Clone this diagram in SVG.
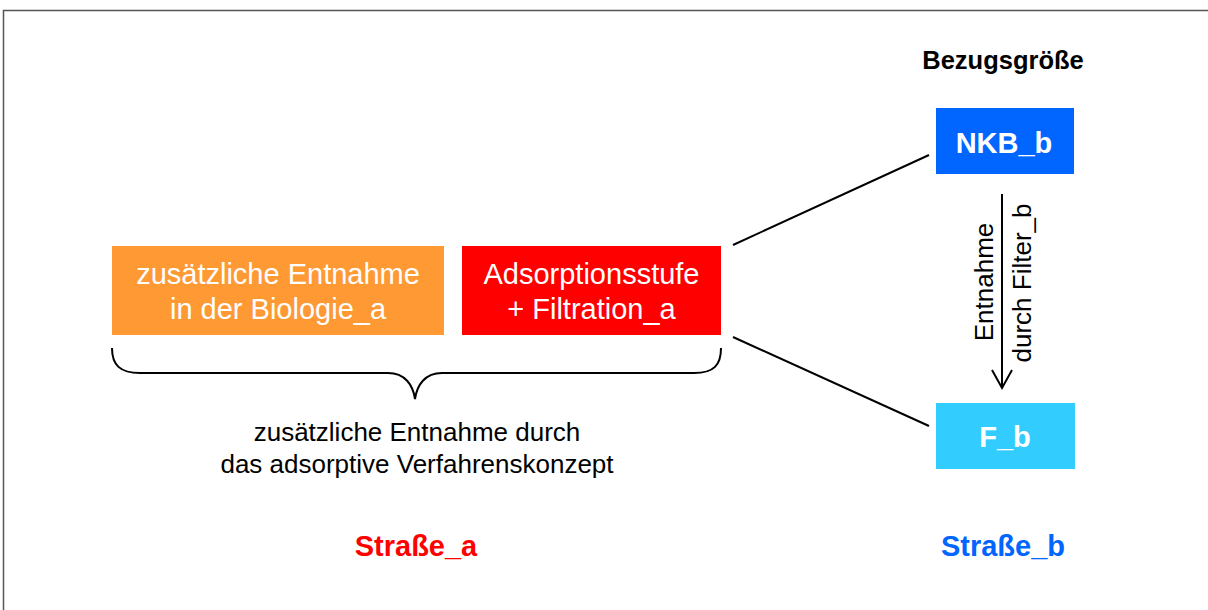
<svg xmlns="http://www.w3.org/2000/svg" width="1208" height="610" viewBox="0 0 1208 610">
<style>
text{font-family:"Liberation Sans",Arial,sans-serif;text-anchor:middle}
.w{fill:#fff;font-size:29px}
.wb{fill:#fff;font-size:29px;font-weight:bold}
.k{fill:#000;font-size:26px}
.ln{stroke:#000;stroke-width:2;fill:none}
</style>
<rect x="0" y="0" width="1208" height="610" fill="#fff"/>
<path d="M3.5 610 V10.5 H1208" fill="none" stroke="#555" stroke-width="1.5"/>
<g id="connectors">
<line class="ln" x1="733" y1="245" x2="929" y2="155"/>
<line class="ln" x1="733" y1="337" x2="929" y2="426"/>
<line class="ln" x1="1002" y1="194" x2="1002" y2="387"/>
<path class="ln" d="M992 370 L1002 388 L1012 370" stroke-width="3"/>
<path class="ln" d="M112 348 C112 365 120 373 140 373 H388 C405 373 413 385 415 399 C417 385 425 373 442 373 H694 C714 373 721 365 721 348"/>
</g>
<g id="orange">
<rect x="112" y="246" width="332" height="89" fill="#FF9933"/>
<text class="w" x="278" y="284">zusätzliche Entnahme</text>
<text class="w" x="278" y="319">in der Biologie_a</text>
</g>
<g id="red">
<rect x="462" y="246" width="259" height="89" fill="#FF0000"/>
<text class="w" x="591.5" y="284">Adsorptionsstufe</text>
<text class="w" x="591.5" y="319">+ Filtration_a</text>
</g>
<g id="nkb">
<rect x="936" y="108" width="138" height="66" fill="#0066FF"/>
<text class="wb" x="1004" y="153">NKB_b</text>
</g>
<g id="fb">
<rect x="936" y="403" width="139" height="66" fill="#33CCFF"/>
<text class="wb" x="1005" y="447">F_b</text>
</g>
<g id="labels">
<text x="1003" y="69" style="font-size:25.5px;font-weight:bold">Bezugsgröße</text>
<text class="k" transform="translate(993 282) rotate(-90)">Entnahme</text>
<text class="k" transform="translate(1031 283) rotate(-90)">durch Filter_b</text>
<text class="k" x="417" y="441">zusätzliche Entnahme durch</text>
<text class="k" x="417" y="473">das adsorptive Verfahrenskonzept</text>
<text x="416" y="556" style="font-size:29px;font-weight:bold;fill:#FF0000">Straße_a</text>
<text x="1003" y="556" style="font-size:29px;font-weight:bold;fill:#0066FF">Straße_b</text>
</g>
</svg>
